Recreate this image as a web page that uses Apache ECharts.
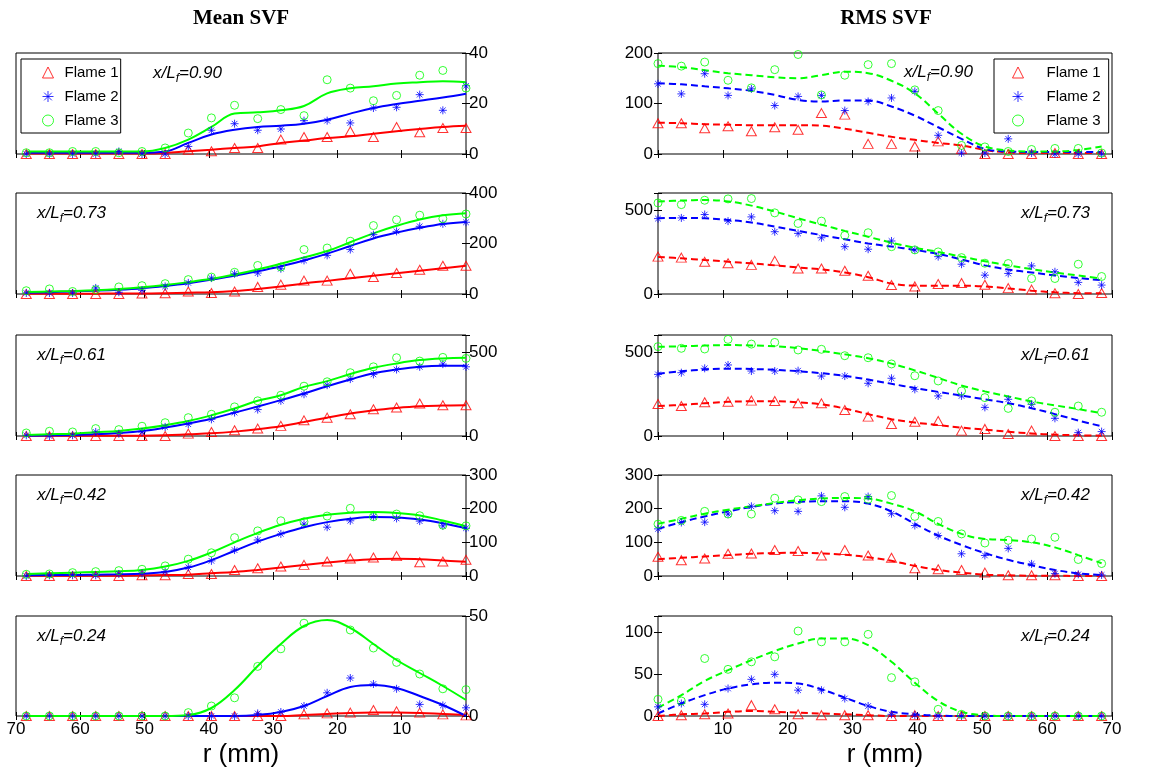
<!DOCTYPE html>
<html lang="en">
<head>
<meta charset="UTF-8">
<title>Mean and RMS SVF</title>
<style>
    * { padding: 0; margin: 0; }
    .EC { width: 1156px; height: 769px; background: #fff; }
</style>
</head>
<body>
<div class="EC"></div>
<script src="https://cdn.jsdelivr.net/npm/echarts@6/dist/echarts.min.js"></script>
<script>
// radial positions (mm), the same in every panel
const r = [0, 3.6, 7.2, 10.8, 14.4, 18, 21.6, 25.2, 28.8, 32.4, 36, 39.6, 43.2, 46.8, 50.4, 54, 57.6, 61.2, 64.8, 68.4];

// each block: [Flame 1, Flame 2, Flame 3], values along r
// Mean SVF
const mean090 = [
    [10.3, 10.3, 8.6, 10.7, 6.7, 9, 6.7, 6.7, 5.7, 2.4, 2.4, 1.1, 1.7, 0, 0, 0, 0, 0, 0, 0],
    [27, 17.3, 23.5, 18.5, 18.2, 12.3, 13.2, 13.2, 9.9, 9.4, 12, 9.4, 3, 0, 0, 1, 0, 0, 0, 0],
    [26.1, 33.1, 31.2, 23.2, 21.1, 26.1, 29.4, 15.2, 17.6, 14, 19.3, 14.3, 8.3, 2.4, 1, 0.5, 1, 1, 0.5, 0.5]
];
const mean090Fit = [
    [11.2, 10.7, 9.9, 9, 8, 7, 6.3, 5.3, 4.4, 3, 2.4, 1.7, 1.1, 0.4, 0.2, 0.2, 0.2, 0.2, 0.2, 0.2],
    [23.9, 22.4, 21.1, 19.8, 18.2, 16, 13.6, 12, 11.2, 10.7, 9.6, 7.7, 4.4, 1, 0.5, 0.5, 0.5, 0.5, 0.5, 0.5],
    [28.4, 28.8, 28.4, 27.9, 26.8, 26, 24, 19, 17.3, 16.5, 16, 10.7, 5.7, 2.4, 1, 1, 1, 1, 1, 1]
];
const mean073 = [
    [112, 112, 96, 83, 67, 80, 53, 53, 37, 28, 10, 4, 10, 3, 2, 0, 0, 0, 0, 0],
    [284, 278, 268, 248, 235, 176, 153, 133, 100, 83, 80, 63, 44, 30, 15, 7, 24, 4, 4, 4],
    [317, 298, 312, 294, 271, 209, 182, 176, 107, 113, 86, 67, 57, 41, 33, 28, 17, 10, 20, 13]
];
const mean073Fit = [
    [112, 102, 92, 82, 72, 62, 52, 42, 30, 20, 12, 7, 5, 3, 2, 2, 1, 1, 1, 1],
    [285, 277, 262, 243, 220, 190, 160, 133, 110, 90, 72, 57, 43, 32, 23, 17, 13, 10, 7, 5],
    [320, 312, 295, 270, 240, 205, 170, 145, 120, 97, 77, 60, 47, 36, 27, 20, 15, 12, 10, 8]
];
const mean061 = [
    [183, 183, 193, 169, 159, 129, 109, 93, 60, 44, 34, 24, 14, 0, 0, 0, 0, 0, 0, 0],
    [411, 427, 411, 395, 366, 338, 302, 248, 209, 157, 139, 99, 70, 54, 24, 14, 24, 4, 0, 4],
    [461, 467, 445, 465, 411, 376, 322, 296, 242, 209, 173, 129, 109, 79, 58, 38, 44, 24, 28, 18]
];
const mean061Fit = [
    [183, 181, 177, 167, 153, 133, 109, 83, 58, 40, 26, 16, 10, 4, 2, 2, 1, 1, 1, 1],
    [417, 417, 411, 395, 373, 336, 296, 252, 213, 175, 139, 103, 74, 50, 30, 18, 10, 6, 4, 2],
    [465, 461, 451, 431, 405, 368, 326, 292, 242, 209, 163, 123, 89, 64, 44, 30, 22, 14, 10, 6]
];
const mean042 = [
    [48, 43, 41, 59, 55, 52, 43, 33, 28, 23, 18, 6, 6, 2, 2, 0, 0, 0, 0, 0],
    [142, 149, 163, 171, 176, 164, 145, 154, 125, 107, 77, 45, 26, 13, 8, 6, 2, 2, 2, 0],
    [149, 151, 179, 184, 176, 201, 178, 161, 164, 134, 114, 69, 50, 30, 20, 16, 13, 10, 6, 5]
];
const mean042Fit = [
    [42, 46, 50, 51, 50, 46, 40, 33, 25, 18, 12, 8, 4, 3, 2, 1, 1, 1, 1, 1],
    [142, 157, 168, 174, 175, 170, 160, 145, 125, 102, 75, 47, 25, 12, 7, 5, 4, 3, 3, 2],
    [148, 165, 180, 187, 190, 188, 182, 170, 152, 128, 100, 70, 45, 28, 18, 14, 12, 10, 8, 6]
];
const mean024 = [
    [0.3, 0.8, 1.7, 2.3, 3, 1.7, 1.3, 0.8, 0, 0, 0, 0, 0, 0, 0, 0, 0, 0, 0, 0],
    [4.1, 5.3, 5.8, 13.6, 16, 19, 11.6, 5, 2, 1.3, 0, 0, 0, 0, 0, 0, 0, 0, 0, 0],
    [13.2, 13.6, 21, 26.8, 34, 43, 50.2, 46.4, 33.6, 24.8, 9.1, 5, 1.7, 0, 0, 0, 0, 0, 0, 0]
];
const mean024Fit = [
    [0.5, 1, 1.5, 1.7, 1.7, 1.5, 1, 0.5, 0, 0, 0, 0, 0, 0, 0, 0, 0, 0, 0, 0],
    [0, 5.5, 10, 14, 15.5, 14.5, 10, 5, 2, 0.5, 0, 0, 0, 0, 0, 0, 0, 0, 0, 0],
    [8, 15, 21.5, 28, 36, 44, 48, 45, 36, 25, 13, 4, 0.5, 0, 0, 0, 0, 0, 0, 0]
];

// RMS SVF
const rms090 = [
    [61, 61, 51, 55, 45, 53, 48, 81, 78, 20, 20, 15, 25, 10, 0, 0, 0, 2, 0, 0],
    [139, 119, 159, 116, 129, 96, 114, 116, 86, 104, 111, 124, 37, 2, 2, 30, 2, 0, 0, 0],
    [179, 174, 182, 146, 131, 167, 197, 117, 156, 177, 179, 127, 86, 17, 14, 5, 9, 11, 11, 2]
];
const rms090Fit = [
    [62, 61, 59, 58, 57, 57, 57, 56, 50, 42, 34, 28, 22, 17, 8, 3, 2, 2, 2, 2],
    [140, 138, 134, 130, 125, 117, 107, 104, 106, 106, 94, 76, 53, 30, 10, 5, 4, 4, 4, 4],
    [175, 172, 166, 160, 156, 152, 150, 156, 163, 160, 145, 120, 80, 40, 15, 7, 5, 5, 8, 15]
];
const rms073 = [
    [222, 216, 191, 183, 173, 197, 151, 151, 138, 108, 53, 45, 59, 65, 55, 35, 26, 4, 0, 6],
    [448, 452, 472, 433, 458, 370, 360, 334, 281, 266, 315, 262, 222, 177, 112, 122, 167, 132, 69, 53],
    [541, 531, 557, 565, 567, 482, 419, 433, 348, 364, 281, 262, 250, 216, 183, 181, 92, 92, 177, 104]
];
const rms073Fit = [
    [220, 212, 202, 192, 182, 170, 158, 146, 128, 100, 62, 50, 49, 49, 45, 33, 20, 10, 5, 4],
    [450, 452, 450, 440, 425, 400, 375, 350, 325, 300, 282, 262, 238, 205, 170, 145, 128, 110, 95, 82],
    [550, 555, 558, 550, 525, 490, 450, 412, 375, 340, 305, 275, 250, 222, 195, 170, 148, 128, 110, 92]
];
const rms061 = [
    [190, 178, 200, 204, 210, 208, 194, 194, 154, 115, 71, 85, 89, 32, 42, 12, 32, 0, 0, 0],
    [366, 376, 402, 422, 386, 386, 388, 356, 356, 313, 343, 277, 238, 238, 170, 218, 188, 105, 20, 26],
    [531, 521, 517, 574, 546, 556, 511, 515, 477, 465, 428, 358, 327, 267, 228, 164, 208, 141, 178, 141]
];
const rms061Fit = [
    [178, 185, 195, 203, 206, 206, 200, 188, 163, 130, 100, 80, 65, 50, 38, 25, 15, 8, 4, 2],
    [370, 385, 395, 400, 398, 393, 385, 373, 357, 335, 310, 285, 262, 240, 218, 195, 165, 130, 92, 58],
    [530, 533, 537, 540, 538, 533, 522, 505, 485, 462, 430, 390, 345, 300, 265, 235, 205, 182, 160, 135]
];
const rms042 = [
    [57, 47, 52, 66, 67, 77, 74, 61, 77, 61, 54, 23, 20, 18, 10, 2, 2, 2, 0, 0],
    [140, 159, 160, 184, 207, 194, 192, 238, 204, 236, 185, 150, 120, 66, 61, 82, 36, 7, 5, 3],
    [154, 165, 192, 184, 184, 231, 226, 221, 236, 228, 239, 177, 162, 125, 98, 106, 110, 115, 49, 37]
];
const rms042Fit = [
    [50, 54, 58, 62, 66, 68, 69, 67, 63, 56, 45, 30, 18, 10, 4, 2, 1, 1, 0, 0],
    [140, 160, 177, 192, 205, 215, 220, 222, 222, 215, 192, 155, 120, 92, 68, 48, 32, 18, 8, 3],
    [155, 170, 185, 197, 207, 217, 225, 230, 232, 230, 215, 192, 155, 125, 110, 107, 100, 85, 62, 38]
];
const rms024 = [
    [0, 1, 2, 3, 13, 8, 2, 1, 1, 1, 0, 1, 0, 0, 0, 0, 0, 0, 0, 0],
    [11, 15, 14, 33, 44, 50, 31, 31, 21, 12, 2, 1, 0, 0, 0, 0, 0, 0, 0, 0],
    [20, 18, 69, 56, 65, 71, 102, 89, 89, 98, 46, 41, 8, 2, 0, 0, 0, 0, 0, 0]
];
const rms024Fit = [
    [0, 2, 3, 5, 6, 5, 4, 3, 2, 1, 0, 0, 0, 0, 0, 0, 0, 0, 0, 0],
    [3, 15, 25, 33, 38, 40, 39, 32, 22, 12, 5, 2, 0.5, 0, 0, 0, 0, 0, 0, 0],
    [10, 25, 42, 55, 67, 78, 87, 93, 93, 85, 65, 40, 18, 5, 1, 0, 0, 0, 0, 0]
];

const stations = ['0.90', '0.73', '0.61', '0.42', '0.24'];
const flames = ['Flame 1', 'Flame 2', 'Flame 3'];

window.onload = () => {
    const EC = echarts.init(document.querySelector('.EC'));
    const font = 'Liberation Sans';
    const colors = ['#ff0000', '#0000ff', '#00ff00'];
    const star = 'path://M5,0L5,10M0,5L10,5M1.5,1.5L8.5,8.5M1.5,8.5L8.5,1.5';
    const symbols = ['triangle', star, 'circle'];
    const sizes = [[10, 9], 8, 8];
    const tops = [53, 193, 335, 475, 616];

    const grid = [], xAxis = [], yAxis = [], series = [], graphic = [];

    const addPanel = (col, row, pts, fit, ymax, yint) => {
        const gi = grid.length;
        grid.push({
            left: col === 0 ? 16 : 658, width: col === 0 ? 450 : 454,
            top: tops[row], height: 101,
            show: true, borderColor: '#000', borderWidth: 1, backgroundColor: '#fff'
        });
        const last = row === 4;
        const tick = { inside: true, length: 4, lineStyle: { color: '#000' } };
        const xBase = {
            type: 'value', gridIndex: gi, min: 0, max: 70, interval: 10, inverse: col === 0,
            axisLine: { show: false }, splitLine: { show: false }, axisTick: tick
        };
        xAxis.push(Object.assign({}, xBase, {
            position: 'bottom',
            axisLabel: {
                show: last, margin: 5, color: '#000', fontSize: 17, fontFamily: font,
                formatter: v => v === 0 ? '' : v
            },
            name: last ? 'r (mm)' : '', nameLocation: 'middle', nameGap: 26,
            nameTextStyle: { fontSize: 26, fontFamily: font, color: '#000' }
        }));
        xAxis.push(Object.assign({}, xBase, { position: 'top', axisLabel: { show: false } }));
        const yBase = {
            type: 'value', gridIndex: gi, min: 0, max: ymax, interval: yint,
            axisLine: { show: false }, splitLine: { show: false }, axisTick: tick
        };
        yAxis.push(Object.assign({}, yBase, {
            position: col === 0 ? 'right' : 'left',
            axisLabel: {
                margin: col === 0 ? 3 : 5, color: '#000', fontSize: 17, fontFamily: font,
                formatter: v => v % yint === 0 ? v : ''
            }
        }));
        yAxis.push(Object.assign({}, yBase, { position: col === 0 ? 'left' : 'right', axisLabel: { show: false } }));

        for (let k = 0; k < 3; k++) {
            series.push({
                type: 'line', name: flames[k] + ' fit', xAxisIndex: 2 * gi, yAxisIndex: 2 * gi,
                data: r.map((x, i) => [x, fit[k][i]]),
                smooth: 0.4, showSymbol: false, symbol: 'none', silent: true, z: 2,
                lineStyle: { color: colors[k], width: 2, type: col === 0 ? 'solid' : [7, 4] }
            });
            series.push({
                type: 'scatter', name: flames[k], xAxisIndex: 2 * gi, yAxisIndex: 2 * gi,
                data: r.map((x, i) => [x, pts[k][i]]),
                symbol: symbols[k], symbolSize: sizes[k], silent: true, z: 3,
                itemStyle: { color: 'rgba(0,0,0,0)', borderColor: colors[k], borderWidth: 1 }
            });
        }

        // x/Lf label
        const lx = col === 0 ? (row === 0 ? 153 : 37) : (row === 0 ? 904 : 1021);
        const ly = tops[row] + (col === 1 && row === 0 ? 19 : 20);
        graphic.push({
            type: 'text', x: lx, y: ly, z: 10,
            style: {
                text: '{a|x/L}{b|f}{a|=' + stations[row] + '}',
                verticalAlign: 'middle',
                rich: {
                    a: { fontSize: 17, fontStyle: 'italic', fontFamily: font, fill: '#000' },
                    b: { fontSize: 12, fontStyle: 'italic', fontFamily: font, fill: '#000', padding: [12, 0, 0, 0] }
                }
            }
        });
    };

    addPanel(0, 0, mean090, mean090Fit, 40, 20);
    addPanel(1, 0, rms090, rms090Fit, 200, 100);
    addPanel(0, 1, mean073, mean073Fit, 400, 200);
    addPanel(1, 1, rms073, rms073Fit, 600, 500);
    addPanel(0, 2, mean061, mean061Fit, 600, 500);
    addPanel(1, 2, rms061, rms061Fit, 600, 500);
    addPanel(0, 3, mean042, mean042Fit, 300, 100);
    addPanel(1, 3, rms042, rms042Fit, 300, 100);
    addPanel(0, 4, mean024, mean024Fit, 50, 50);
    addPanel(1, 4, rms024, rms024Fit, 120, 50);

    // column titles
    graphic.push({
        type: 'text', x: 241, y: 19,
        style: { text: 'Mean SVF', textAlign: 'center', verticalAlign: 'middle', fontSize: 21, fontWeight: 'bold', fontFamily: 'Liberation Serif', fill: '#000' }
    });
    graphic.push({
        type: 'text', x: 886, y: 19,
        style: { text: 'RMS SVF', textAlign: 'center', verticalAlign: 'middle', fontSize: 21, fontWeight: 'bold', fontFamily: 'Liberation Serif', fill: '#000' }
    });

    const legendData = flames.map((n, k) => ({
        name: n, icon: symbols[k],
        itemStyle: { color: 'rgba(0,0,0,0)', borderColor: colors[k], borderWidth: 1 }
    }));
    const legendBase = {
        orient: 'vertical', top: 59, itemWidth: 11, itemHeight: 11, itemGap: 9,
        selectedMode: false, backgroundColor: '#fff', borderColor: '#000', borderWidth: 1, borderRadius: 0,
        data: legendData, z: 20
    };

    EC.setOption({
        animation: false,
        backgroundColor: '#fff',
        grid, xAxis, yAxis, series, graphic,
        legend: [
            Object.assign({}, legendBase, {
                left: 21, padding: [6, 2, 5, 21],
                textStyle: { fontSize: 15, fontFamily: font, color: '#000', padding: [0, 0, 0, 6] }
            }),
            Object.assign({}, legendBase, {
                left: 994, padding: [6, 8, 5, 18],
                textStyle: { fontSize: 15, fontFamily: font, color: '#000', padding: [0, 0, 0, 18] }
            })
        ]
    });
};
</script>
</body>
</html>
